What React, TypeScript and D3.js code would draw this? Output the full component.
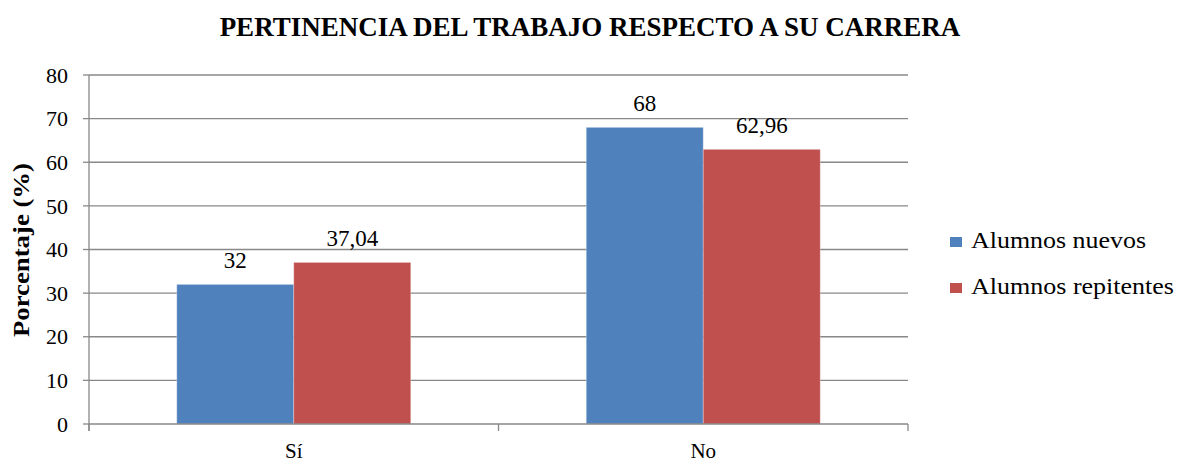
import React from "react";
import * as d3 from "d3";

const categories = ["Sí", "No"];
const seriesNames = ["Alumnos nuevos", "Alumnos repitentes"];
const nuevos = [32, 68];
const repitentes = [37.04, 62.96];
const yTicks = [0, 10, 20, 30, 40, 50, 60, 70, 80];
const colors = ["#4F81BD", "#C0504D"];

const W = 1180;
const H = 462;
const left = 89;
const right = 908;
const top = 75;
const bottom = 424;
const font = "'Liberation Serif', 'Times New Roman', serif";
const ts = { fontFamily: font, fontWeight: 400 as const };
const legendLengths = [175, 203];

function fmt(v: number) {
  return String(v).replace(".", ",");
}

export default function App() {
  const x = d3.scaleBand<string>().domain(categories).range([left, right]).paddingInner(0).paddingOuter(0);
  const y = d3.scaleLinear().domain([0, 80]).range([bottom, top]);
  const inner = d3
    .scaleBand<string>()
    .domain(seriesNames)
    .range([0, x.bandwidth()])
    .paddingInner(0)
    .paddingOuter(0.75);
  const series = [nuevos, repitentes];

  return (
    <svg width={W} height={H} style={{ position: "absolute", left: 0, top: 0 }}>
      <rect width={W} height={H} fill="#fff" />
      <text x={590} y={36} textAnchor="middle" fontSize={27} style={{ fontFamily: font, fontWeight: 700 }}>
        PERTINENCIA DEL TRABAJO RESPECTO A SU CARRERA
      </text>
      {yTicks.map((t) => (
        <g key={t}>
          {t > 0 && <line x1={left} x2={right} y1={y(t)} y2={y(t)} stroke="#888" strokeWidth={1.3} />}
          <line x1={left - 6} x2={left} y1={y(t)} y2={y(t)} stroke="#888" strokeWidth={1.3} />
          <text x={68} y={y(t)} dy="0.35em" textAnchor="end" fontSize={22} style={ts}>
            {t}
          </text>
        </g>
      ))}
      {series.map((vals, si) =>
        categories.map((c, ci) => (
          <rect
            key={si + "-" + ci}
            x={(x(c) as number) + (inner(seriesNames[si]) as number)}
            y={y(vals[ci])}
            width={inner.bandwidth()}
            height={y(0) - y(vals[ci])}
            fill={colors[si]}
            stroke="#ffffff"
            strokeOpacity={0.3}
            strokeWidth={1}
          />
        ))
      )}
      {series.map((vals, si) =>
        categories.map((c, ci) => (
          <text
            key={"l" + si + "-" + ci}
            x={(x(c) as number) + (inner(seriesNames[si]) as number) + inner.bandwidth() / 2}
            y={y(vals[ci]) - 16}
            textAnchor="middle"
            fontSize={23}
            style={ts}
          >
            {fmt(vals[ci])}
          </text>
        ))
      )}
      <line x1={left} x2={left} y1={top} y2={bottom + 7} stroke="#888" strokeWidth={1.3} />
      <line x1={left} x2={right} y1={bottom} y2={bottom} stroke="#888" strokeWidth={1.3} />
      {[left, (x("No") as number), right].map((px, i) => (
        <line key={i} x1={px} x2={px} y1={bottom} y2={bottom + 7} stroke="#888" strokeWidth={1.3} />
      ))}
      {categories.map((c) => (
        <text key={c} x={(x(c) as number) + x.bandwidth() / 2} y={458} textAnchor="middle" fontSize={21} style={ts}>
          {c}
        </text>
      ))}
      <text
        transform={`translate(28.5, 250) rotate(-90)`}
        textAnchor="middle"
        fontSize={23}
        textLength={174}
        lengthAdjust="spacingAndGlyphs"
        style={{ fontFamily: font, fontWeight: 700 }}
      >
        Porcentaje (%)
      </text>
      {seriesNames.map((s, i) => (
        <g key={s}>
          <rect x={950} y={237 + i * 46} width={12} height={10} fill={colors[i]} />
          <text
            x={971}
            y={248 + i * 46}
            fontSize={23}
            textLength={legendLengths[i]}
            lengthAdjust="spacingAndGlyphs"
            style={ts}
          >
            {s}
          </text>
        </g>
      ))}
    </svg>
  );
}
